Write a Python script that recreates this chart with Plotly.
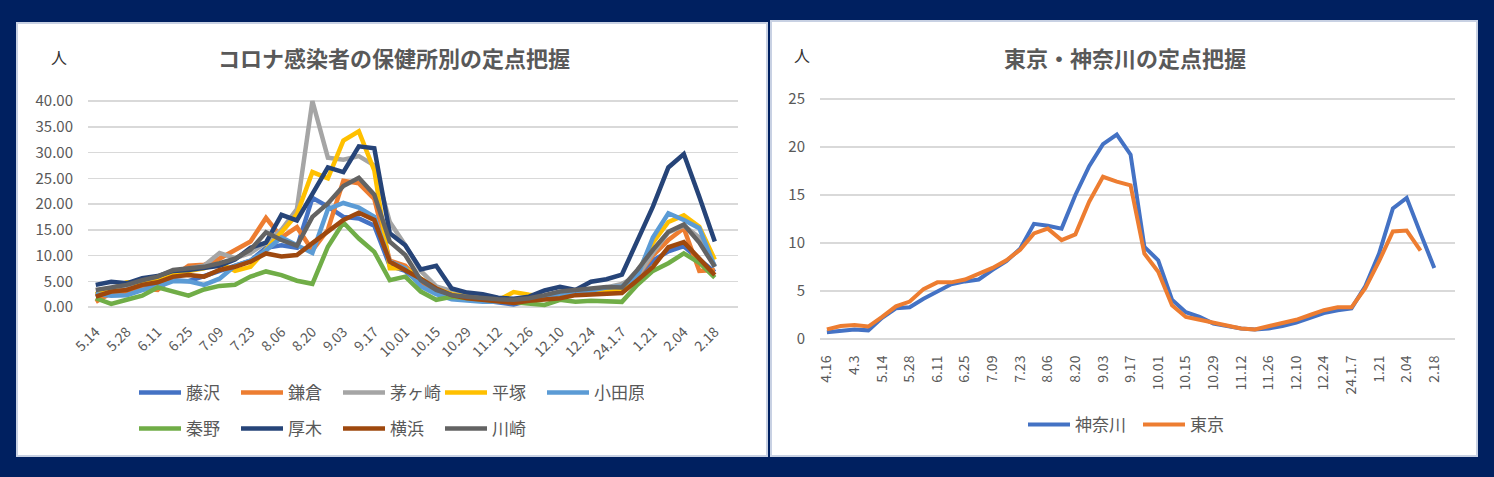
import plotly.graph_objects as go

# ---------------- data ----------------
left_categories = ["5.14", "5.21", "5.28", "6.04", "6.11", "6.18", "6.25", "7.02", "7.09", "7.16",
                   "7.23", "7.30", "8.06", "8.13", "8.20", "8.27", "9.03", "9.10", "9.17", "9.24",
                   "10.01", "10.08", "10.15", "10.22", "10.29", "11.05", "11.12", "11.19", "11.26", "12.03",
                   "12.10", "12.17", "12.24", "12.31", "24.1.7", "1.14", "1.21", "1.28", "2.04", "2.11",
                   "2.18", "2.25"]

fujisawa = [2.5, 2.8, 3.0, 3.8, 4.5, 5.2, 5.0, 6.0, 7.0, 8.0, 9.0, 11.5, 12.0, 11.5, 21.2, 19.5, 17.5, 17.2, 15.8, 8.0,
            7.0, 4.5, 2.8, 2.0, 1.5, 1.3, 1.0, 0.5, 1.2, 2.0, 2.5, 2.8, 3.0, 3.5, 3.2, 6.0, 9.0, 10.8, 11.8, 9.2, 6.8]
kamakura = [1.0, 2.7, 3.0, 3.6, 3.3, 5.9, 8.0, 8.2, 9.4, 11.0, 12.7, 17.3, 13.5, 15.5, 11.0, 15.0, 24.5, 24.0, 21.0, 9.0,
            8.0, 5.0, 3.0, 2.0, 1.5, 1.2, 1.0, 1.0, 1.3, 1.8, 2.2, 2.5, 2.8, 3.0, 3.0, 6.0, 10.0, 13.0, 15.3, 7.0, 7.2]
chigasaki = [2.5, 3.5, 3.5, 4.5, 5.0, 6.5, 7.5, 8.0, 10.5, 9.5, 10.5, 12.5, 15.0, 19.0, 40.0, 29.0, 28.6, 29.3, 27.5, 16.5,
             12.0, 7.0, 4.0, 3.0, 2.2, 1.8, 1.5, 1.3, 1.6, 2.0, 2.5, 2.8, 3.2, 3.8, 4.5, 6.0, 10.5, 14.5, 15.8, 13.5, 8.0]
hiratsuka = [2.5, 3.5, 4.8, 4.5, 5.5, 6.5, 7.0, 7.5, 8.5, 7.0, 7.8, 11.0, 14.5, 18.0, 26.2, 25.0, 32.3, 34.1, 26.5, 7.5,
             7.5, 5.5, 3.5, 2.5, 2.0, 1.5, 1.3, 2.9, 2.4, 2.0, 2.0, 2.5, 2.8, 3.0, 3.5, 6.5, 12.5, 16.5, 17.8, 15.6, 9.2]
odawara = [2.5, 2.2, 2.3, 3.3, 3.9, 5.0, 5.0, 4.3, 5.5, 8.0, 9.0, 11.0, 13.5, 12.0, 10.5, 19.0, 20.2, 19.3, 17.5, 8.8,
           7.5, 4.0, 2.5, 1.5, 1.2, 1.0, 1.0, 1.0, 1.5, 2.0, 2.5, 3.0, 3.2, 3.8, 4.0, 6.0, 13.5, 18.2, 16.9, 15.3, 7.8]
hadano = [1.7, 0.6, 1.4, 2.2, 3.8, 3.0, 2.2, 3.4, 4.1, 4.3, 5.9, 6.9, 6.2, 5.1, 4.5, 11.7, 16.4, 13.3, 10.7, 5.2,
          5.9, 3.0, 1.4, 2.0, 1.7, 1.4, 1.2, 1.0, 0.7, 0.4, 1.4, 1.0, 1.2, 1.2, 1.0, 4.3, 7.0, 8.5, 10.4, 8.6, 5.7]
atsugi = [4.3, 4.9, 4.6, 5.6, 6.0, 7.0, 7.2, 7.5, 8.0, 9.2, 11.5, 12.5, 17.9, 16.8, 21.8, 27.1, 26.2, 31.2, 30.8, 14.3,
          12.0, 7.3, 8.0, 3.6, 2.8, 2.5, 1.8, 1.6, 2.0, 3.2, 3.9, 3.3, 4.9, 5.4, 6.3, 13.0, 19.5, 27.1, 29.7, 21.4, 12.7]
yokohama = [2.0, 3.0, 3.3, 4.3, 4.8, 5.9, 6.2, 5.9, 7.2, 7.8, 8.8, 10.4, 9.8, 10.1, 12.4, 14.6, 16.9, 18.3, 16.9, 8.8,
            7.2, 5.5, 3.6, 2.3, 1.7, 1.4, 1.0, 0.8, 1.2, 1.5, 1.7, 2.3, 2.5, 2.7, 2.7, 5.2, 7.8, 11.6, 12.6, 9.4, 6.2]
kawasaki = [3.3, 3.9, 4.3, 5.2, 5.9, 7.2, 7.5, 7.8, 8.5, 9.4, 11.1, 14.5, 13.0, 11.9, 17.5, 20.1, 23.5, 25.1, 21.8, 12.7,
            10.1, 5.2, 3.3, 2.3, 2.0, 1.7, 1.5, 1.4, 1.7, 2.3, 3.0, 3.3, 3.6, 3.9, 3.8, 7.2, 11.1, 14.6, 16.0, 12.5, 7.8]

left_names = ["藤沢", "鎌倉", "茅ヶ崎", "平塚", "小田原", "秦野", "厚木", "横浜", "川崎"]
left_values = [fujisawa, kamakura, chigasaki, hiratsuka, odawara, hadano, atsugi, yokohama, kawasaki]
left_colors = ["#4472C4", "#ED7D31", "#A5A5A5", "#FFC000", "#5B9BD5", "#70AD47", "#264478", "#9E480E", "#636363"]

right_categories = ["4.16", "4.23", "4.3", "5.07"] + left_categories
kanagawa = [0.7, 0.9, 1.0, 0.9, 2.2, 3.2, 3.3, 4.2, 4.9, 5.7, 6.0, 6.2, 7.2, 8.1, 9.4, 12.0, 11.8, 11.5, 15.0, 18.0,
            20.3, 21.3, 19.2, 9.6, 8.2, 4.1, 2.8, 2.3, 1.6, 1.35, 1.1, 1.0, 1.1, 1.35, 1.7, 2.2, 2.7, 3.0, 3.2, 5.5,
            8.9, 13.6, 14.7, 11.0, 7.4]
tokyo = [1.0, 1.35, 1.45, 1.3, 2.3, 3.4, 3.9, 5.2, 5.9, 5.9, 6.2, 6.8, 7.4, 8.2, 9.3, 11.0, 11.5, 10.3, 10.9, 14.3,
         16.9, 16.4, 16.0, 8.9, 7.0, 3.5, 2.3, 2.0, 1.7, 1.35, 1.1, 1.0, 1.3, 1.6, 2.0, 2.5, 3.0, 3.3, 3.3, 5.3,
         8.1, 11.2, 11.3, 9.2]
right_names = ["神奈川", "東京"]
right_values = [kanagawa, tokyo]
right_colors = ["#4472C4", "#ED7D31"]

left_title = "コロナ感染者の保健所別の定点把握"
right_title = "東京・神奈川の定点把握"
unit_label = "人"

# ---------------- figure ----------------
W, H = 1494, 477
FONT = "Noto Sans CJK JP, Noto Sans, sans-serif"
GREY = "#595959"


def px(x):
    return x / W


def py(y):
    return 1 - y / H


fig = go.Figure()

for k, (name, vals, col) in enumerate(zip(left_names, left_values, left_colors)):
    fig.add_trace(go.Scatter(
        x=left_categories[:len(vals)], y=vals, name=name, mode="lines",
        line=dict(color=col, width=4.5), xaxis="x", yaxis="y",
        legend="legend" if k < 5 else "legend2",
    ))

for name, vals, col in zip(right_names, right_values, right_colors):
    fig.add_trace(go.Scatter(
        x=right_categories[:len(vals)], y=vals, name=name, mode="lines",
        line=dict(color=col, width=4), xaxis="x2", yaxis="y2",
        legend="legend3",
    ))

tickfont = dict(family=FONT, size=15, color=GREY)
xtickfont = dict(family=FONT, size=14, color=GREY)
legfont = dict(family=FONT, size=17, color=GREY)

fig.update_layout(
    width=W, height=H, autosize=False,
    margin=dict(l=0, r=0, t=0, b=0, autoexpand=False),
    paper_bgcolor="#002060",
    plot_bgcolor="rgba(0,0,0,0)",
    showlegend=True,
    hovermode=False,
    xaxis=dict(
        domain=[px(88), px(738)], anchor="y", type="category", automargin=False,
        categoryorder="array", categoryarray=left_categories,
        range=[-0.5, len(left_categories) - 0.5],
        tickmode="array", tickvals=left_categories[::2], ticktext=left_categories[::2],
        tickangle=-45, tickfont=xtickfont, showgrid=False, zeroline=False, showline=False,
        ticks="", ticklabelstandoff=8,
    ),
    yaxis=dict(
        domain=[py(307 + 5.15), py(101 - 5.15)], anchor="x", automargin=False,
        range=[-1, 41], tick0=0, dtick=5, tickformat=".2f",
        tickfont=tickfont, showgrid=True, gridcolor="#d9d9d9", gridwidth=1.5,
        zeroline=False, showline=False, ticks="", ticklabelstandoff=14,
    ),
    xaxis2=dict(
        domain=[px(820), px(1455)], anchor="y2", type="category", automargin=False,
        categoryorder="array", categoryarray=right_categories,
        range=[-0.5, len(right_categories) - 0.5],
        tickmode="array", tickvals=right_categories[::2], ticktext=right_categories[::2],
        tickangle=-90, tickfont=xtickfont, showgrid=False, zeroline=False, showline=False,
        ticks="", ticklabelstandoff=8,
    ),
    yaxis2=dict(
        domain=[py(339 + 4.8), py(99 - 4.8)], anchor="x2", automargin=False,
        range=[-0.5, 25.5], tick0=0, dtick=5,
        tickfont=tickfont, showgrid=True, gridcolor="#d9d9d9", gridwidth=1.5,
        zeroline=False, showline=False, ticks="", ticklabelstandoff=14,
    ),
    legend=dict(orientation="h", x=px(134), y=py(393), xanchor="left", yanchor="middle",
                font=legfont, itemwidth=42, entrywidth=45, entrywidthmode="pixels",
                bgcolor="rgba(0,0,0,0)", traceorder="normal"),
    legend2=dict(orientation="h", x=px(134), y=py(429), xanchor="left", yanchor="middle",
                 font=legfont, itemwidth=42, entrywidth=45, entrywidthmode="pixels",
                 bgcolor="rgba(0,0,0,0)", traceorder="normal"),
    legend3=dict(orientation="h", x=px(1023), y=py(425), xanchor="left", yanchor="middle",
                 font=legfont, itemwidth=42, entrywidth=58, entrywidthmode="pixels",
                 bgcolor="rgba(0,0,0,0)", traceorder="normal"),
    shapes=[
        dict(type="rect", xref="paper", yref="paper", x0=px(17), x1=px(767), y0=py(456), y1=py(23),
             fillcolor="white", line=dict(color="#c8d1e3", width=2), layer="below"),
        dict(type="rect", xref="paper", yref="paper", x0=px(771), x1=px(1477), y0=py(456), y1=py(21),
             fillcolor="white", line=dict(color="#c8d1e3", width=2), layer="below"),
    ],
    annotations=[
        dict(text=left_title, xref="paper", yref="paper", x=px(394), y=py(57), xanchor="center",
             yanchor="middle", showarrow=False,
             font=dict(family=FONT, size=22, color=GREY, weight="bold")),
        dict(text=right_title, xref="paper", yref="paper", x=px(1125), y=py(57), xanchor="center",
             yanchor="middle", showarrow=False,
             font=dict(family=FONT, size=22, color=GREY, weight="bold")),
        dict(text=unit_label, xref="paper", yref="paper", x=px(59), y=py(57), xanchor="center",
             yanchor="middle", showarrow=False, font=dict(family=FONT, size=16, color="#333333")),
        dict(text=unit_label, xref="paper", yref="paper", x=px(802), y=py(55), xanchor="center",
             yanchor="middle", showarrow=False, font=dict(family=FONT, size=16, color="#333333")),
    ],
)

fig.write_html("out.html", config={"displayModeBar": False, "staticPlot": True},
               post_script="document.body.style.margin='0';")
